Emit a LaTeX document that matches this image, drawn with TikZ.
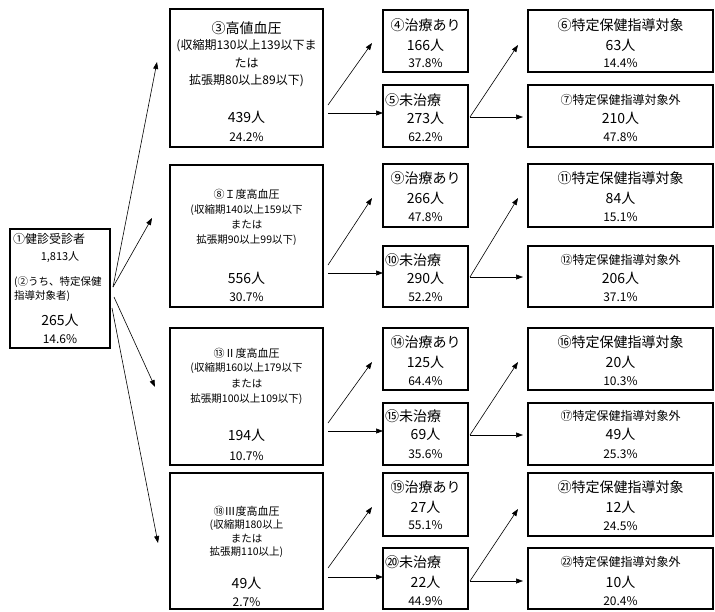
\documentclass[tikz,border=0pt]{standalone}
\usepackage{fontspec}
\setmainfont{Noto Sans CJK JP}
\usetikzlibrary{arrows.meta,fit}
\tikzset{
  box/.style={draw, line width=1.1pt, inner sep=0pt, fit={#1}},
  arr/.style={line width=0.6pt, -{Triangle[length=7pt,width=5pt]}},
  fA/.style={font=\fontsize{14}{16}\selectfont},
  fB/.style={font=\fontsize{12}{14}\selectfont},
  fC/.style={font=\fontsize{10.5}{12}\selectfont},
  fD/.style={font=\fontsize{11}{13}\selectfont},
  tx/.style={inner sep=0pt, anchor=center},
  tw/.style={inner sep=0pt, anchor=west},
}
\begin{document}
\begin{tikzpicture}[x=1pt,y=-1pt]
\useasboundingbox (0,0) rectangle (715,611);
% ---------- boxes ----------
\node[box={(10,229) (110,348)}] (L) {};
\node[box={(170,9) (323,147)}] (B3) {};
\node[box={(170,165) (323,307)}] (B8) {};
\node[box={(170,328) (323,465)}] (B13) {};
\node[box={(170,473) (323,609)}] (B18) {};
\node[box={(383,10) (468,72)}] (S4) {};
\node[box={(383,85) (468,147)}] (S5) {};
\node[box={(383,164) (468,227)}] (S9) {};
\node[box={(383,246) (468,307)}] (S10) {};
\node[box={(383,328) (468,390)}] (S14) {};
\node[box={(383,403) (468,465)}] (S15) {};
\node[box={(383,473) (468,536)}] (S19) {};
\node[box={(383,548) (468,609)}] (S20) {};
\node[box={(528,10) (713,72)}] (R6) {};
\node[box={(528,85) (713,147)}] (R7) {};
\node[box={(528,164) (713,227)}] (R11) {};
\node[box={(528,246) (713,307)}] (R12) {};
\node[box={(528,328) (713,390)}] (R16) {};
\node[box={(528,403) (713,465)}] (R17) {};
\node[box={(528,473) (713,536)}] (R21) {};
\node[box={(528,548) (713,609)}] (R22) {};
% ---------- left box text ----------
\node[tw,fB] (l1) at (13,239) {①健診受診者};
\node[tx,fD] (l2) at (60,257) {1,813人};
\node[tw,fC] (l3) at (14,282) {(②うち、特定保健};
\node[tw,fC] (l4) at (14,296) {指導対象者)};
\node[tx,fA] (l5) at (60,320) {265人};
\node[tx,fB] (l6) at (60,339) {14.6\%};
% ---------- big boxes text ----------
\node[tx,fA] (b3a) at (246.5,28) {③高値血圧};
\node[tx,fB] (b3b) at (246.5,46) {(収縮期130以上139以下ま};
\node[tx,fB] (b3c) at (246.5,63) {たは};
\node[tx,fB] (b3d) at (246.5,81) {拡張期80以上89以下)};
\node[tx,fA] (b3e) at (246.5,117) {439人};
\node[tx,fB] (b3f) at (246.5,137) {24.2\%};

\node[tx,fD] (b8a) at (246.5,194) {⑧Ｉ度高血圧};
\node[tx,fC] (b8b) at (246.5,210) {(収縮期140以上159以下};
\node[tx,fC] (b8c) at (246.5,225) {または};
\node[tx,fC] (b8d) at (246.5,240) {拡張期90以上99以下)};
\node[tx,fA] (b8e) at (246.5,278) {556人};
\node[tx,fB] (b8f) at (246.5,297) {30.7\%};

\node[tx,fD] (b13a) at (246.5,353) {⑬Ⅱ度高血圧};
\node[tx,fC] (b13b) at (246.5,368) {(収縮期160以上179以下};
\node[tx,fC] (b13c) at (246.5,384) {または};
\node[tx,fC] (b13d) at (246.5,399) {拡張期100以上109以下)};
\node[tx,fA] (b13e) at (246.5,435) {194人};
\node[tx,fB] (b13f) at (246.5,456) {10.7\%};

\node[tx,fD] (b18a) at (246.5,511) {⑱Ⅲ度高血圧};
\node[tx,fC] (b18b) at (246.5,525) {(収縮期180以上};
\node[tx,fC] (b18c) at (246.5,539) {または};
\node[tx,fC] (b18d) at (246.5,552) {拡張期110以上)};
\node[tx,fA] (b18e) at (246.5,583) {49人};
\node[tx,fB] (b18f) at (246.5,602) {2.7\%};
% ---------- small boxes text ----------
\node[tx,fA] (s4a) at (425.5,25) {④治療あり};
\node[tx,fA] (s4b) at (425.5,45) {166人};
\node[tx,fB] (s4c) at (425.5,63) {37.8\%};
\node[tw,fA] (s5a) at (385,100) {⑤未治療};
\node[tx,fA] (s5b) at (425.5,118) {273人};
\node[tx,fB] (s5c) at (425.5,137) {62.2\%};

\node[tx,fA] (s9a) at (425.5,178) {⑨治療あり};
\node[tx,fA] (s9b) at (425.5,198) {266人};
\node[tx,fB] (s9c) at (425.5,217) {47.8\%};
\node[tw,fA] (s10a) at (385,260) {⑩未治療};
\node[tx,fA] (s10b) at (425.5,278) {290人};
\node[tx,fB] (s10c) at (425.5,297) {52.2\%};

\node[tx,fA] (s14a) at (425.5,342) {⑭治療あり};
\node[tx,fA] (s14b) at (425.5,362) {125人};
\node[tx,fB] (s14c) at (425.5,381) {64.4\%};
\node[tw,fA] (s15a) at (385,416) {⑮未治療};
\node[tx,fA] (s15b) at (425.5,434) {69人};
\node[tx,fB] (s15c) at (425.5,454) {35.6\%};

\node[tx,fA] (s19a) at (425.5,487) {⑲治療あり};
\node[tx,fA] (s19b) at (425.5,507) {27人};
\node[tx,fB] (s19c) at (425.5,525) {55.1\%};
\node[tw,fA] (s20a) at (385,562) {⑳未治療};
\node[tx,fA] (s20b) at (425.5,582) {22人};
\node[tx,fB] (s20c) at (425.5,601) {44.9\%};
% ---------- right boxes text ----------
\node[tx,fA] (r6a) at (620.5,25) {⑥特定保健指導対象};
\node[tx,fA] (r6b) at (620.5,45) {63人};
\node[tx,fB] (r6c) at (620.5,63) {14.4\%};
\node[tx,fB] (r7a) at (620.5,100) {⑦特定保健指導対象外};
\node[tx,fA] (r7b) at (620.5,118) {210人};
\node[tx,fB] (r7c) at (620.5,137) {47.8\%};

\node[tx,fA] (r11a) at (620.5,178) {⑪特定保健指導対象};
\node[tx,fA] (r11b) at (620.5,198) {84人};
\node[tx,fB] (r11c) at (620.5,217) {15.1\%};
\node[tx,fB] (r12a) at (620.5,260) {⑫特定保健指導対象外};
\node[tx,fA] (r12b) at (620.5,278) {206人};
\node[tx,fB] (r12c) at (620.5,297) {37.1\%};

\node[tx,fA] (r16a) at (620.5,342) {⑯特定保健指導対象};
\node[tx,fA] (r16b) at (620.5,362) {20人};
\node[tx,fB] (r16c) at (620.5,381) {10.3\%};
\node[tx,fB] (r17a) at (620.5,416) {⑰特定保健指導対象外};
\node[tx,fA] (r17b) at (620.5,434) {49人};
\node[tx,fB] (r17c) at (620.5,454) {25.3\%};

\node[tx,fA] (r21a) at (620.5,487) {㉑特定保健指導対象};
\node[tx,fA] (r21b) at (620.5,507) {12人};
\node[tx,fB] (r21c) at (620.5,526) {24.5\%};
\node[tx,fB] (r22a) at (620.5,562) {㉒特定保健指導対象外};
\node[tx,fA] (r22b) at (620.5,582) {10人};
\node[tx,fB] (r22c) at (620.5,601) {20.4\%};
% ---------- connector coordinates ----------
\coordinate (lA) at (113,287);
\coordinate (lB) at (114,297);
\coordinate (lC) at (112,308);
\coordinate (e3) at (157,62);
\coordinate (e8) at (152,218);
\coordinate (e13) at (155,387);
\coordinate (e18) at (158,543);
\draw[arr] (lA) -- (e3);
\draw[arr] (lA) -- (e8);
\draw[arr] (lB) -- (e13);
\draw[arr] (lC) -- (e18);
% big -> small
\coordinate (d3) at (328,105);  \coordinate (t4) at (372,43);
\coordinate (h3) at (328,113);  \coordinate (t5) at (383,113);
\coordinate (d8) at (328,265);  \coordinate (t9) at (372,198);
\coordinate (h8) at (328,273);  \coordinate (t10) at (383,273);
\coordinate (d13) at (328,423); \coordinate (t14) at (372,362);
\coordinate (h13) at (328,431); \coordinate (t15) at (383,431);
\coordinate (d18) at (328,568); \coordinate (t19) at (372,507);
\coordinate (h18) at (328,577); \coordinate (t20) at (383,577);
\draw[arr] (d3) -- (t4);   \draw[arr] (h3) -- (t5);
\draw[arr] (d8) -- (t9);   \draw[arr] (h8) -- (t10);
\draw[arr] (d13) -- (t14); \draw[arr] (h13) -- (t15);
\draw[arr] (d18) -- (t19); \draw[arr] (h18) -- (t20);
% small -> right
\coordinate (o5) at (470,117);  \coordinate (u6) at (518,45);   \coordinate (u7) at (523,117);
\coordinate (o10) at (470,277); \coordinate (u11) at (518,198); \coordinate (u12) at (523,277);
\coordinate (o15) at (470,435); \coordinate (u16) at (518,362); \coordinate (u17) at (523,435);
\coordinate (o20) at (470,581); \coordinate (u21) at (518,509); \coordinate (u22) at (523,581);
\draw[arr] (o5) -- (u6);   \draw[arr] (o5) -- (u7);
\draw[arr] (o10) -- (u11); \draw[arr] (o10) -- (u12);
\draw[arr] (o15) -- (u16); \draw[arr] (o15) -- (u17);
\draw[arr] (o20) -- (u21); \draw[arr] (o20) -- (u22);
\end{tikzpicture}
\end{document}
